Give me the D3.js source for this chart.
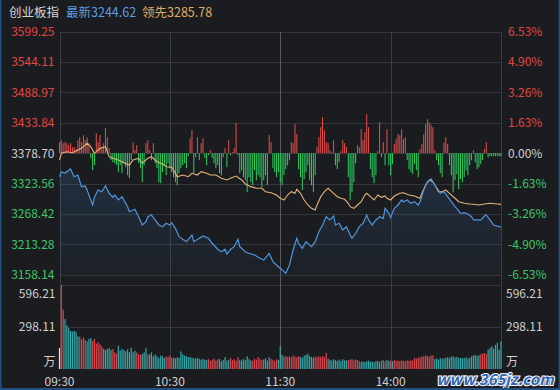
<!DOCTYPE html>
<html>
<head>
<meta charset="utf-8">
<script src="https://cdn.jsdelivr.net/npm/d3@7"></script>
<style>
  html, body { margin: 0; padding: 0; background: #1b1c20; }
  svg { display: block; }
  text { font-family: "Noto Sans CJK SC", "Open Sans", sans-serif; }
</style>
</head>
<body>
<div id="chart"></div>
<script>

var title = "创业板指";
var lastPrice = 3244.62;
var leadPrice = 3285.78;
var preClose = 3378.70;

var priceTicks = [3599.25, 3544.11, 3488.97, 3433.84, 3378.70, 3323.56, 3268.42, 3213.28, 3158.14];
var pctTicks = [6.53, 4.90, 3.26, 1.63, 0, -1.63, -3.26, -4.90, -6.53];
var volTicks = [596.21, 298.11];
var timeTicks = [0, 60, 120, 180, 240];
var timeLabels = ["09:30", "10:30", "11:30", "14:00", "15:00"];

// [minute since 09:30, value]
var indexLine = [[0,3336.0],[1,3345.1],[3,3342.7],[6,3350.0],[8,3336.0],[10,3339.1],[12,3317.9],[14,3319.2],[15,3311.9],[18,3284.7],[19,3299.2],[21,3311.9],[23,3308.8],[25,3319.7],[27,3305.9],[29,3298.7],[30,3302.8],[32,3293.8],[34,3299.7],[37,3281.6],[38,3272.5],[41,3276.9],[43,3263.4],[45,3248.4],[47,3254.4],[48,3263.4],[50,3266.5],[52,3257.5],[54,3248.4],[56,3245.3],[58,3251.5],[60,3248.4],[61,3252.6],[63,3242.4],[65,3227.1],[67,3222.4],[69,3218.1],[72,3230.2],[73,3218.1],[76,3224.2],[78,3228.4],[81,3224.2],[83,3215.2],[86,3204.3],[88,3199.9],[90,3204.3],[91,3195.7],[93,3204.3],[95,3209.0],[97,3222.4],[98,3209.0],[101,3199.9],[103,3197.0],[106,3193.9],[109,3187.9],[111,3184.8],[114,3197.0],[116,3181.7],[119,3172.7],[120,3170.0],[123,3160.7],[125,3175.8],[127,3203.0],[129,3224.2],[130,3215.2],[132,3206.1],[134,3218.1],[137,3209.0],[139,3218.1],[141,3236.2],[143,3248.4],[145,3263.4],[147,3257.5],[149,3264.7],[150,3248.4],[152,3251.5],[154,3239.3],[156,3245.3],[158,3230.2],[159,3224.2],[161,3233.3],[163,3245.3],[165,3251.5],[167,3266.5],[168,3257.5],[170,3248.4],[172,3257.5],[174,3263.4],[176,3260.5],[177,3278.7],[179,3270.0],[180,3262.0],[182,3278.7],[184,3284.7],[186,3293.8],[187,3290.7],[189,3293.8],[191,3287.8],[193,3290.7],[195,3284.7],[196,3290.7],[198,3311.9],[200,3327.0],[202,3331.9],[204,3321.0],[206,3311.9],[207,3305.9],[209,3308.8],[211,3299.7],[213,3290.7],[215,3281.6],[216,3278.7],[218,3269.6],[220,3270.7],[222,3268.3],[224,3263.4],[225,3257.5],[227,3257.5],[229,3257.5],[231,3264.7],[232,3266.5],[234,3257.5],[236,3248.4],[239,3245.3],[240,3244.62]];

var leadLine = [[0,3366.4],[1,3378.5],[4,3381.4],[7,3379.6],[10,3384.5],[12,3387.6],[15,3396.7],[17,3390.5],[19,3378.5],[20,3381.4],[22,3387.6],[25,3390.5],[27,3372.4],[29,3369.4],[32,3366.4],[35,3361.5],[38,3357.3],[40,3366.4],[43,3369.4],[45,3360.4],[48,3369.4],[50,3372.4],[53,3363.3],[56,3359.1],[58,3354.2],[61,3353.1],[62,3348.2],[64,3336.0],[67,3339.1],[70,3336.0],[72,3342.2],[75,3339.1],[77,3345.1],[80,3342.2],[82,3339.1],[85,3339.1],[88,3333.1],[91,3330.1],[93,3333.1],[96,3337.3],[99,3330.1],[101,3322.8],[104,3318.0],[107,3315.0],[110,3315.0],[112,3308.8],[115,3307.0],[118,3302.8],[120,3296.9],[122,3293.8],[124,3302.8],[126,3308.8],[128,3305.9],[129,3313.2],[131,3305.9],[133,3293.8],[135,3284.7],[137,3278.7],[139,3275.6],[140,3284.7],[142,3299.7],[144,3308.8],[146,3315.0],[148,3308.8],[149,3305.9],[151,3299.7],[153,3296.9],[155,3295.0],[157,3287.8],[158,3281.6],[160,3278.7],[162,3284.7],[164,3290.7],[166,3302.8],[167,3305.9],[169,3299.7],[171,3293.8],[173,3302.8],[175,3298.6],[177,3301.0],[178,3296.9],[180,3293.8],[182,3301.0],[185,3305.9],[187,3307.0],[190,3302.8],[193,3301.0],[196,3296.9],[197,3305.9],[199,3321.0],[201,3330.1],[203,3327.0],[205,3315.0],[206,3308.8],[208,3308.8],[210,3311.9],[212,3305.9],[214,3299.7],[215,3296.9],[217,3290.7],[220,3287.8],[223,3286.5],[225,3286.0],[228,3284.7],[231,3286.5],[234,3287.8],[238,3286.5],[240,3285.78]];

// up/down strength per minute
var breadth = [
  11,13,10,11,10,8,10,6,6,4,
  13,16,11,18,13,16,10,-5,-17,-12,
  20,11,18,6,10,25,16,5,-7,-9,
  -10,-12,-19,-12,-20,-10,-14,-22,-25,-7,
  11,3,8,-10,-15,-29,-12,10,13,3,
  -7,10,-10,-15,-29,-30,-19,-12,-22,-10,
  -15,-19,-24,-29,-32,-20,-15,-12,-10,-15,
  -3,15,23,-20,-4,16,-7,10,15,-5,
  -12,-2,3,-5,-10,-15,-12,-20,-22,-4,
  5,-14,13,-2,1,5,30,-2,-20,-17,
  -24,-27,-39,-24,-29,-32,-17,-27,-22,-24,
  -34,-27,-22,-32,18,11,-15,-19,-24,-19,
  -29,-32,-22,-16,-12,-7,11,10,29,19,
  -16,-24,-37,-26,-19,-12,-27,-32,-39,-22,
  6,16,26,36,23,11,10,3,1,13,
  -12,-16,-9,2,13,10,6,-24,-47,-39,
  -29,-10,8,6,24,13,21,39,26,-16,
  -24,-30,-22,2,31,-4,11,-12,24,-12,
  -22,-11,9,14,19,18,24,14,16,-7,
  -16,-19,-21,-11,-17,-24,4,9,19,29,
  34,31,28,26,3,-7,-12,-20,-24,11,
  16,9,-12,-22,-39,-27,-21,-36,-26,-29,
  -24,-17,-22,-12,-7,3,-9,-16,-14,-11,
  -7,4,11,-4,-3,-3,-3,-3,-3,-3,-3
];

// volume per minute, 万
var volume = [
  149,596.21,421,355,310,290,270,265,270,262,
  232,230,210,225,206,196,213,220,200,215,
  180,189,175,160,142,135,142,149,135,142,
  118,109,165,130,142,135,125,140,120,150,
  118,130,118,106,100,106,118,149,104,104,
  118,90,104,90,78,95,90,78,90,85,
  95,80,80,76,82,80,125,104,95,90,
  85,85,78,78,73,78,73,66,71,66,
  62,70,58,66,75,60,68,72,56,64,
  85,60,66,78,62,70,58,85,66,60,
  72,64,90,70,62,58,74,66,85,70,
  62,68,76,60,84,72,66,58,70,64,
  161,100,88,92,85,90,82,95,88,84,
  90,86,80,95,100,109,92,85,80,88,
  82,90,86,92,84,113,72,66,60,70,
  62,58,66,55,70,62,60,64,66,70,
  62,68,64,55,50,52,48,55,60,50,
  52,47,55,58,50,60,62,55,66,58,
  60,55,64,58,60,55,62,58,56,60,
  58,62,60,78,74,80,84,88,90,95,
  92,88,95,98,70,74,66,78,72,76,
  80,84,78,88,90,82,86,78,80,76,
  78,82,75,80,90,95,100,92,98,104,
  110,113,106,137,150,161,145,170,185,137,
  196
];

// r = up, g = down, n = flat
var volumeDir = "n rr gggggggg rrrr ggg rrrrrr ggggg rrr gggggggggg rrr ggg r ggggggggg rrrr ggggggggg gggggggggg rrrrrr gggggg rrrrr ggggggg rrrrrr gggg rrrr ggg rrrrrrrrr gggggggg rrrrrrr ggggggggggg rrrrrrr ggggggggggg rgrggrgr rrrrrrrrrrr rrrrrrrrrr ggggggggggggggggggggggggg rrrr gggggggg";

function timeShareChart() {

  var width = 560,
    height = 390,
    plot = {left: 59.5, right: 501, top: 31.7, bottom: 274.7},
    vol = {top: 285, bottom: 369},
    xScale = d3.scaleLinear(),
    yScale = d3.scaleLinear(),
    pctScale = d3.scaleLinear(),
    barScale = d3.scaleLinear(),
    volScale = d3.scaleLinear();

  var red = "#e2463f",
    green = "#3cc864",
    grey = "#cfcfcf",
    gridColor = "#33363c";

  function chart(selection) {
    selection.each(function () {

      var svg = d3.select(this).append("svg")
        .attr("width", width)
        .attr("height", height);

      xScale.domain([0, 240]).range([plot.left, plot.right]);
      yScale.domain([priceTicks[8], priceTicks[0]]).range([plot.bottom, plot.top]);
      pctScale.domain([-6.53, 6.53]).range([plot.bottom, plot.top]);
      volScale.domain([0, volTicks[0]]).range([vol.bottom, vol.top]);

      var zeroY = yScale(preClose);
      barScale.domain([-50, 50]).range([zeroY + 50, zeroY - 50]);

      svg.append("rect")
        .attr("width", width).attr("height", height)
        .attr("fill", "#1b1c20");

      // header
      var head = svg.append("g").attr("font-size", "12.5px");
      head.append("text").attr("x", 9).attr("y", 16.5).attr("fill", "#d6d6d6").text(title);
      head.append("text").attr("x", 66).attr("y", 16.5).attr("fill", "#5a9ee6").text("最新" + lastPrice.toFixed(2));
      head.append("text").attr("x", 142).attr("y", 16.5).attr("fill", "#e0aa62").text("领先" + leadPrice.toFixed(2));

      // grid
      var grid = svg.append("g").attr("shape-rendering", "crispEdges");
      grid.selectAll(".hgrid")
        .data(priceTicks)
        .enter().append("line")
        .attr("x1", plot.left).attr("x2", plot.right)
        .attr("y1", function(d) { return Math.round(yScale(d)) + 0.5; })
        .attr("y2", function(d) { return Math.round(yScale(d)) + 0.5; })
        .attr("stroke", gridColor);
      grid.selectAll(".vgrid")
        .data(volTicks)
        .enter().append("line")
        .attr("x1", plot.left).attr("x2", plot.right)
        .attr("y1", function(d) { return Math.round(volScale(d)) + 0.5; })
        .attr("y2", function(d) { return Math.round(volScale(d)) + 0.5; })
        .attr("stroke", gridColor);
      grid.selectAll(".tgrid")
        .data(timeTicks)
        .enter().append("line")
        .attr("x1", function(d) { return Math.round(xScale(d)) + 0.5; })
        .attr("x2", function(d) { return Math.round(xScale(d)) + 0.5; })
        .attr("y1", plot.top).attr("y2", vol.bottom)
        .attr("stroke", function(d) { return d === 120 ? "#5a5d63" : "#3a3d43"; })
        .attr("stroke-width", function(d) { return d === 120 ? 1.5 : 1; });

      // up/down bars
      svg.append("g").selectAll(".bar")
        .data(breadth)
        .enter().append("line")
        .attr("class", "bar")
        .attr("x1", function(d, i) { return xScale(i); })
        .attr("x2", function(d, i) { return xScale(i); })
        .attr("y1", zeroY)
        .attr("y2", function(d) { return barScale(d); })
        .attr("stroke", function(d) { return d >= 0 ? "#e84f4c" : "#2fcf63"; })
        .attr("stroke-width", 1);

      // area under index line
      var defs = svg.append("defs");
      var grad = defs.append("linearGradient")
        .attr("id", "areaFill")
        .attr("gradientUnits", "userSpaceOnUse")
        .attr("x1", 0).attr("x2", 0)
        .attr("y1", yScale(3350)).attr("y2", plot.bottom);
      grad.append("stop").attr("offset", "0%").attr("stop-color", "#3f7fc4").attr("stop-opacity", 0.2);
      grad.append("stop").attr("offset", "100%").attr("stop-color", "#3f7fc4").attr("stop-opacity", 0.04);

      var area = d3.area()
        .x(function(d) { return xScale(d[0]); })
        .y0(plot.bottom)
        .y1(function(d) { return yScale(d[1]); });

      svg.append("path")
        .datum(indexLine)
        .attr("d", area)
        .attr("fill", "url(#areaFill)");

      var line = d3.line()
        .x(function(d) { return xScale(d[0]); })
        .y(function(d) { return yScale(d[1]); });

      svg.append("path")
        .datum(leadLine)
        .attr("d", line)
        .attr("fill", "none")
        .attr("stroke", "#e3b277")
        .attr("stroke-width", 1.1);

      svg.append("path")
        .datum(indexLine)
        .attr("d", line)
        .attr("fill", "none")
        .attr("stroke", "#4f95dc")
        .attr("stroke-width", 1.2);

      // volume
      var dirs = volumeDir.replace(/ /g, "");
      svg.append("g").selectAll(".vol")
        .data(volume)
        .enter().append("rect")
        .attr("class", "vol")
        .attr("x", function(d, i) { return xScale(i) - 0.6; })
        .attr("width", 1.2)
        .attr("y", function(d) { return volScale(d); })
        .attr("height", function(d) { return vol.bottom - volScale(d); })
        .attr("fill", function(d, i) {
          var c = dirs.charAt(i);
          if (c === "r") return "#d9474e";
          if (c === "n") return "#e6e6e6";
          return "#34a8a8";
        });

      // price axis
      var yAxisG = svg.append("g")
        .attr("transform", "translate(" + plot.left + ",0)")
        .call(d3.axisLeft(yScale).tickValues(priceTicks).tickSize(0).tickPadding(5)
          .tickFormat(function(d) { return d.toFixed(2); }));
      yAxisG.select(".domain").remove();
      yAxisG.selectAll("text")
        .attr("font-size", "12px")
        .attr("font-family", "'Noto Sans CJK SC', sans-serif")
        .attr("fill", function(d) {
          if (d > preClose + 0.01) return red;
          if (d < preClose - 0.01) return green;
          return grey;
        });

      var pAxisG = svg.append("g")
        .attr("transform", "translate(" + plot.right + ",0)")
        .call(d3.axisRight(pctScale).tickValues(pctTicks).tickSize(0).tickPadding(7)
          .tickFormat(function(d) { return d.toFixed(2) + "%"; }));
      pAxisG.select(".domain").remove();
      pAxisG.selectAll("text")
        .attr("font-size", "12px")
        .attr("font-family", "'Noto Sans CJK SC', sans-serif")
        .attr("fill", function(d) { return d > 0 ? red : (d < 0 ? green : grey); });

      // volume axes
      [["left", plot.left, d3.axisLeft], ["right", plot.right, d3.axisRight]].forEach(function(s) {
        var g = svg.append("g")
          .attr("transform", "translate(" + s[1] + ",0)")
          .call(s[2](volScale).tickValues(volTicks).tickSize(0).tickPadding(s[0] === "left" ? 4 : 5)
            .tickFormat(function(d) { return d.toFixed(2); }));
        g.select(".domain").remove();
        g.selectAll("text")
          .attr("font-size", "12px")
          .attr("font-family", "'Noto Sans CJK SC', sans-serif")
          .attr("fill", grey)
          .attr("dy", function(d) { return d === volTicks[0] ? "1.05em" : "0.32em"; });
        g.append("text")
          .attr("x", s[0] === "left" ? -4 : 5)
          .attr("y", vol.bottom - 7)
          .attr("dy", "0.32em")
          .attr("text-anchor", s[0] === "left" ? "end" : "start")
          .attr("font-size", "12px")
          .attr("fill", grey)
          .text("万");
      });

      // time axis
      svg.append("g").selectAll(".tlabel")
        .data(timeTicks)
        .enter().append("text")
        .attr("x", function(d) { return xScale(d); })
        .attr("y", 386)
        .attr("text-anchor", "middle")
        .attr("font-size", "12px")
        .attr("fill", grey)
        .text(function(d, i) { return timeLabels[i]; });

      // watermark
      svg.append("text")
        .attr("x", 495)
        .attr("y", 385)
        .attr("text-anchor", "middle")
        .attr("font-family", "'DejaVu Sans', sans-serif")
        .attr("font-size", "15px")
        .attr("font-weight", "bold")
        .attr("font-style", "italic")
        .attr("fill", "#2f63b5")
        .attr("stroke", "#ffffff")
        .attr("stroke-width", 2)
        .attr("paint-order", "stroke")
        .text("www.365jz.com");

      // frame
      var frame = svg.append("g").attr("fill", "#23507f");
      frame.append("rect").attr("x", 0).attr("y", 0).attr("width", 1.5).attr("height", height);
      frame.append("rect").attr("x", width - 1.5).attr("y", 0).attr("width", 1.5).attr("height", height);
      frame.append("rect").attr("x", 0).attr("y", height - 2).attr("width", width).attr("height", 2);
    });
  }

  chart.width = function(_) {
    if (!arguments.length) return width;
    width = _;
    return chart;
  };

  chart.height = function(_) {
    if (!arguments.length) return height;
    height = _;
    return chart;
  };

  return chart;
}

d3.select("#chart").call(timeShareChart());

</script>
</body>
</html>
